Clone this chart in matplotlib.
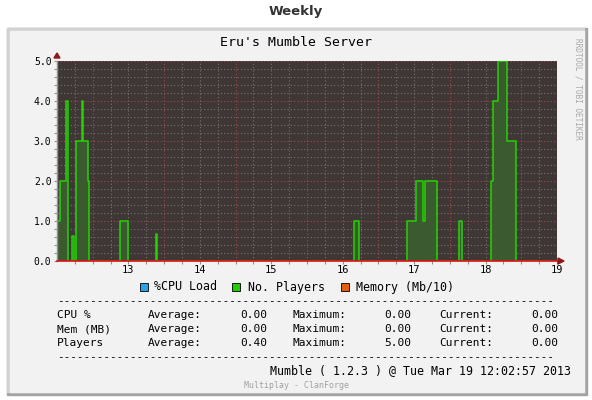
import numpy as np
import matplotlib.pyplot as plt
from matplotlib.patches import Rectangle, Polygon

# ── Data (day of month, players) ─────────────────────────────────────────────
t_days = [12.000, 12.040, 12.122, 12.147, 12.214, 12.234, 12.266, 12.345,
          12.367, 12.428, 12.452, 12.882, 12.998, 13.382, 13.400, 16.158,
          16.228, 16.895, 17.022, 17.120, 17.147, 17.318, 17.633, 17.667,
          18.070, 18.104, 18.180, 18.305, 18.420, 19.000]
players = [1, 2, 4, 0, 0.63, 0, 3, 4,
           3, 2, 0, 1, 0, 0.67, 0, 1,
           0, 1, 2, 1, 2, 0, 1, 0,
           2, 4, 5, 3, 0, 0]

x_ticks = [13, 14, 15, 16, 17, 18, 19]
y_ticks = [0, 1, 2, 3, 4, 5]

legend_names = ['%CPU Load', 'No. Players', 'Memory (Mb/10)']
legend_colors = ['#29a3e6', '#22cc00', '#e0600e']

stat_rows = ['CPU %', 'Mem (MB)', 'Players']
stat_avg = [0.00, 0.00, 0.40]
stat_max = [0.00, 0.00, 5.00]
stat_cur = [0.00, 0.00, 0.00]

W, H = 592, 400
MONO = 'DejaVu Sans Mono'


def fx(px):
    return px / W


def fy(py):
    return 1 - py / H


fig = plt.figure(figsize=(W / 100, H / 100), dpi=100, facecolor='white')

# ── Panel frame (behind the axes) ────────────────────────────────────────────
fig.patches.append(Rectangle((fx(7), fy(395)), fx(580), 367 / H,
                             transform=fig.transFigure, color='#a3a3a3', zorder=-3))
fig.patches.append(Rectangle((fx(7), fy(392)), fx(577), 364 / H,
                             transform=fig.transFigure, color='#d2d2d2', zorder=-2))
fig.patches.append(Rectangle((fx(10), fy(392)), fx(574), 361 / H,
                             transform=fig.transFigure, color='#f2f2f2', zorder=-1))

fig.text(0.5, fy(12), 'Weekly', ha='center', va='center',
         fontsize=9.5, fontweight='bold', color='#333333')
fig.text(0.5, fy(42), "Eru's Mumble Server", ha='center', va='center',
         family=MONO, fontsize=9.5, color='black')
fig.text(fx(578), fy(89), 'RRDTOOL / TOBI OETIKER', ha='center', va='center',
         rotation=-90, family=MONO, fontsize=5.6, color='#a8a8a8')

# ── Plot area ────────────────────────────────────────────────────────────────
ax = fig.add_axes([fx(57), fy(261), 500 / W, 200 / H])
ax.set_facecolor('#3f3636')
ax.set_xlim(12, 19)
ax.set_ylim(0, 5)

dot = (0, (1, 2))
for y in np.arange(0.2, 5.0, 0.2):
    if abs(y - round(y)) > 1e-6:
        ax.axhline(y, color='#7a7070', lw=0.8, ls=dot, zorder=1)
for x in np.arange(12.25, 19.0, 0.25):
    if abs(x * 2 - round(x * 2)) > 1e-6 or abs(x - round(x)) < 1e-6:
        ax.axvline(x, color='#7a7070', lw=0.8, ls=dot, zorder=1)
for y in y_ticks[1:]:
    ax.axhline(y, color='#a84848', lw=0.8, ls=dot, zorder=1)
for x in np.arange(12.5, 19.0, 1.0):
    ax.axvline(x, color='#a84848', lw=0.8, ls=dot, zorder=1)

ax.fill_between(t_days, players, step='post', color='#3c5a30', lw=0, zorder=2)
ax.step(t_days, players, where='post', color='#22d400', lw=1.1, zorder=3)

for s in ['top', 'right']:
    ax.spines[s].set_visible(False)
ax.spines['left'].set_color('#909090')
ax.spines['left'].set_linewidth(1)
ax.spines['bottom'].set_color('#e01010')
ax.spines['bottom'].set_linewidth(1.2)
ax.spines['bottom'].set_zorder(4)

ax.set_xticks(x_ticks)
ax.set_xticklabels([str(v) for v in x_ticks], family=MONO, fontsize=7.5)
ax.set_yticks(y_ticks)
ax.set_yticklabels([f'{v:.1f}' for v in y_ticks], family=MONO, fontsize=7)
ax.set_xticks(np.arange(12.25, 19.0, 0.25), minor=True)
ax.set_yticks(np.arange(0.2, 5.0, 0.2), minor=True)
ax.tick_params(axis='both', which='both', length=2, width=0.8,
               color='#909090', pad=2)
ax.tick_params(axis='x', which='major', pad=1)

# axis arrows
fig.patches.append(Polygon([[fx(54), fy(58)], [fx(60), fy(58)], [fx(57), fy(53)]],
                           closed=True, transform=fig.transFigure,
                           color='#8b1a1a', zorder=5))
fig.patches.append(Polygon([[fx(558), fy(258)], [fx(558), fy(264)], [fx(564), fy(261)]],
                           closed=True, transform=fig.transFigure,
                           color='#8b1a1a', zorder=5))

# ── Legend ───────────────────────────────────────────────────────────────────
legend_box_x = [140, 231.5, 341]
legend_txt_x = [154.5, 248.3, 356]
for name, col, bx, tx in zip(legend_names, legend_colors, legend_box_x, legend_txt_x):
    fig.patches.append(Rectangle((fx(bx), fy(291)), fx(8), 8 / H,
                                 transform=fig.transFigure, facecolor=col,
                                 edgecolor='black', lw=0.6, zorder=3))
    fig.text(fx(tx), fy(287), name, ha='left', va='center',
             family=MONO, fontsize=8.4, color='black')

# ── Stats table ──────────────────────────────────────────────────────────────
dash = '-' * 75
fig.text(fx(57), fy(301), dash, ha='left', va='center', family=MONO,
         fontsize=7.95, color='black')
fig.text(fx(57), fy(357), dash, ha='left', va='center', family=MONO,
         fontsize=7.95, color='black')
row_y = [315, 329.3, 343.3]
for name, a, m, c, ry in zip(stat_rows, stat_avg, stat_max, stat_cur, row_y):
    kw = dict(va='center', family=MONO, fontsize=8, color='black')
    fig.text(fx(57), fy(ry), name, ha='left', **kw)
    fig.text(fx(148), fy(ry), 'Average:', ha='left', **kw)
    fig.text(fx(267), fy(ry), f'{a:.2f}', ha='right', **kw)
    fig.text(fx(292.5), fy(ry), 'Maximum:', ha='left', **kw)
    fig.text(fx(411.5), fy(ry), f'{m:.2f}', ha='right', **kw)
    fig.text(fx(439), fy(ry), 'Current:', ha='left', **kw)
    fig.text(fx(558), fy(ry), f'{c:.2f}', ha='right', **kw)

fig.text(fx(571), fy(371), 'Mumble ( 1.2.3 ) @ Tue Mar 19 12:02:57 2013',
         ha='right', va='center', family=MONO, fontsize=8.4, color='black')
fig.text(fx(297), fy(385.7), 'Multiplay - ClanForge', ha='center', va='center',
         family=MONO, fontsize=5.95, color='#a0a0a0')

fig.savefig('out.png', dpi=100, facecolor='white')
